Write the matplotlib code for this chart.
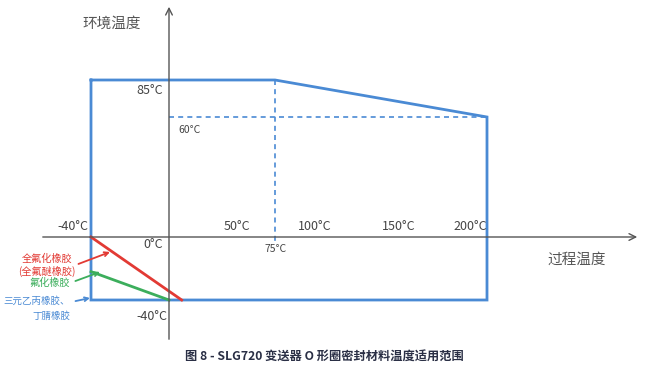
import numpy as np
import matplotlib
matplotlib.use("Agg")
import matplotlib.pyplot as plt

plt.rcParams['font.family'] = ['Noto Sans CJK SC', 'DejaVu Sans']

# data (temperatures in °C)
env_label = "环境温度"
proc_label = "过程温度"
caption = "图 8 - SLG720 变送器 O 形圈密封材料温度适用范围"

# operating envelope: process temp vs ambient temp
env_proc = [-40, 75, 200, 200, -40, -40]
env_amb = [85, 85, 60, -40, -40, 85]

# materials: lower limit lines
ffkm_proc = [-40, 9]
ffkm_amb = [0, -40]
fkm_proc = [-40, 0]
fkm_amb = [-22, -40]

x_ticks = [50, 100, 150]
x_tick_labels = ["50°C", "100°C", "150°C"]

# schematic (non-linear) axis scales, knots
x_knots_t = [-40, 0, 75, 200]
x_knots_u = [91, 169, 275, 487]
y_knots_t = [-40, 0, 60, 85]
y_knots_u = [-300, -237, -117, -80]


def piecewise(xk, yk):
    xk = np.asarray(xk, float)
    yk = np.asarray(yk, float)

    def f(v):
        v = np.asarray(v, float)
        out = np.interp(v, xk, yk)
        lo = yk[0] + (v - xk[0]) * (yk[1] - yk[0]) / (xk[1] - xk[0])
        hi = yk[-1] + (v - xk[-1]) * (yk[-1] - yk[-2]) / (xk[-1] - xk[-2])
        out = np.where(v < xk[0], lo, out)
        out = np.where(v > xk[-1], hi, out)
        return out
    return f


xf, xi = piecewise(x_knots_t, x_knots_u), piecewise(x_knots_u, x_knots_t)
yf, yi = piecewise(y_knots_t, y_knots_u), piecewise(y_knots_u, y_knots_t)

fig = plt.figure(figsize=(6.67, 3.91), dpi=100)
ax = fig.add_axes([0, 0, 1, 1])
ax.set_xscale('function', functions=(xf, xi))
ax.set_yscale('function', functions=(yf, yi))
ax.set_xlim(float(xi(0)), float(xi(667)))
ax.set_ylim(float(yi(-391)), float(yi(0)))
ax.axis('off')

blue = '#4a8ad4'
red = '#e23a34'
green = '#3cae5c'
axis_c = '#555555'
text_c = '#444444'

# axes with arrows
ax.annotate('', xy=(float(xi(640)), 0), xytext=(float(xi(40)), 0),
            arrowprops=dict(arrowstyle='->', color=axis_c, lw=1.0,
                            mutation_scale=12))
ax.annotate('', xy=(0, float(yi(-4))), xytext=(0, float(yi(-342))),
            arrowprops=dict(arrowstyle='->', color=axis_c, lw=1.0,
                            mutation_scale=12))

# envelope
ax.plot(env_proc, env_amb, color=blue, lw=2.0, solid_joinstyle='miter')
ax.plot([0, 200], [60, 60], color=blue, lw=1.2, ls=(0, (3, 2.5)))
ax.plot([75, 75], [85, -4], color=blue, lw=1.2, ls=(0, (3, 2.5)))

# material lines
ax.plot(ffkm_proc, ffkm_amb, color=red, lw=2.0)
ax.plot(fkm_proc, fkm_amb, color=green, lw=2.0)

# tick labels
for xv, lab in zip(x_ticks, x_tick_labels):
    ax.annotate(lab, (xv, 0), xytext=(-3, 4), textcoords='offset pixels',
                ha='center', va='bottom', fontsize=9, color=text_c)
ax.annotate("200°C", (200, 0), xytext=(0, 4), textcoords='offset pixels',
            ha='right', va='bottom', fontsize=9, color=text_c)
ax.annotate("-40°C", (-40, 0), xytext=(-3, 4), textcoords='offset pixels',
            ha='right', va='bottom', fontsize=9, color=text_c)
ax.annotate("75°C", (75, 0), xytext=(1, -12), textcoords='offset pixels',
            ha='center', va='center', fontsize=7.5, color=text_c)
ax.annotate("85°C", (0, 85), xytext=(-6, -11), textcoords='offset pixels',
            ha='right', va='center', fontsize=9, color=text_c)
ax.annotate("0°C", (0, 0), xytext=(-6, -8), textcoords='offset pixels',
            ha='right', va='center', fontsize=9, color=text_c)
ax.annotate("-40°C", (0, -40), xytext=(-2, -17), textcoords='offset pixels',
            ha='right', va='center', fontsize=9, color=text_c)
ax.annotate("60°C", (0, 60), xytext=(9, -13), textcoords='offset pixels',
            ha='left', va='center', fontsize=7.5, color=text_c)

# axis titles
fig.text(82 / 667, 1 - 24 / 391, env_label, ha='left', va='center',
         fontsize=10.5, color=axis_c)
fig.text(547 / 667, 1 - 260 / 391, proc_label, ha='left', va='center',
         fontsize=10.5, color=axis_c)

# material labels with arrows (figure pixels)
H = 391
ax.annotate("全氟化橡胶\n(全氟醚橡胶)", xy=(110, H - 252), xycoords='figure pixels',
            xytext=(47, H - 265), textcoords='figure pixels',
            ha='center', va='center', fontsize=7.3, color=red, linespacing=1.25,
            arrowprops=dict(arrowstyle='->', color=red, lw=1.3,
                            shrinkA=0, shrinkB=0, relpos=(1.0, 0.5)))
ax.annotate("氟化橡胶", xy=(100, H - 272), xycoords='figure pixels',
            xytext=(70, H - 283), textcoords='figure pixels',
            ha='right', va='center', fontsize=7.3, color=green,
            arrowprops=dict(arrowstyle='->', color=green, lw=1.3,
                            shrinkA=2, shrinkB=0, relpos=(1.0, 0.5)))
ax.annotate("三元乙丙橡胶、\n丁腈橡胶", xy=(90, H - 298), xycoords='figure pixels',
            xytext=(70, H - 308.5), textcoords='figure pixels',
            ha='right', va='center', fontsize=6.8, color=blue, linespacing=1.75,
            multialignment='right',
            arrowprops=dict(arrowstyle='->', color=blue, lw=1.3,
                            shrinkA=2, shrinkB=0, relpos=(1.0, 0.75)))

fig.text(185 / 667, 1 - 357 / 391, caption, ha='left', va='center',
         fontsize=8.8, fontweight='bold', color='#2a2f45')

fig.savefig("out.png", dpi=100)
